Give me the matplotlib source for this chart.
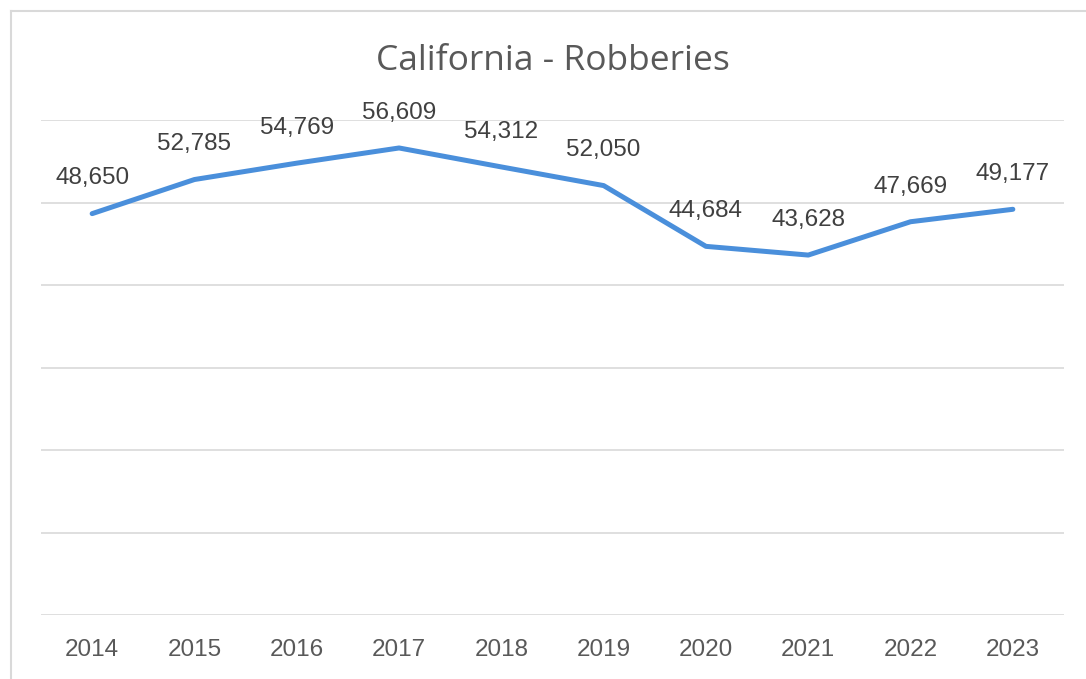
import matplotlib
matplotlib.use("Agg")
import matplotlib.pyplot as plt
from matplotlib.lines import Line2D

years = ["2014", "2015", "2016", "2017", "2018", "2019", "2020", "2021", "2022", "2023"]
robberies = [48650, 52785, 54769, 56609, 54312, 52050, 44684, 43628, 47669, 49177]
title = "California - Robberies"

W, H = 1086, 679
fig = plt.figure(figsize=(W / 100, H / 100), dpi=100)
fig.patch.set_facecolor("white")

ax = fig.add_axes([41 / W, 1 - 615 / H, (1064 - 41) / W, (615 - 120) / H])
x = list(range(len(years)))
ax.plot(x, robberies, color="#4a8fdb", lw=3.6, solid_capstyle="round", solid_joinstyle="round", zorder=3)
ax.set_xlim(-0.5, len(years) - 0.5)
ax.set_ylim(0, 60000)
ax.set_yticks(range(0, 60001, 10000))
ax.yaxis.grid(True, color="#d9d9d9", lw=1.2)
ax.set_axisbelow(True)
ax.tick_params(axis="y", left=False, labelleft=False)
ax.set_xticks(x)
ax.set_xticklabels(years, fontsize=17.5, color="#595959", family="Liberation Sans")
ax.tick_params(axis="x", length=0, pad=17)
for s in ax.spines.values():
    s.set_visible(False)

for xi, v in zip(x, robberies):
    ax.annotate(f"{v:,}", (xi, v), xytext=(0, 21), textcoords="offset points",
                ha="center", va="baseline", fontsize=17.5, color="#404040",
                family="Liberation Sans")

fig.text(553 / W, 1 - 70 / H, title, ha="center", va="baseline", fontsize=25.5,
         color="#595959", family="Open Sans")

# outer chart border (left and top visible)
fig.add_artist(Line2D([10.5 / W, 10.5 / W], [0, 1 - 10.5 / H], transform=fig.transFigure, color="#d9d9d9", lw=1.5))
fig.add_artist(Line2D([10.5 / W, 1], [1 - 10.5 / H, 1 - 10.5 / H], transform=fig.transFigure, color="#d9d9d9", lw=1.5))

fig.savefig("out.png", dpi=100)
